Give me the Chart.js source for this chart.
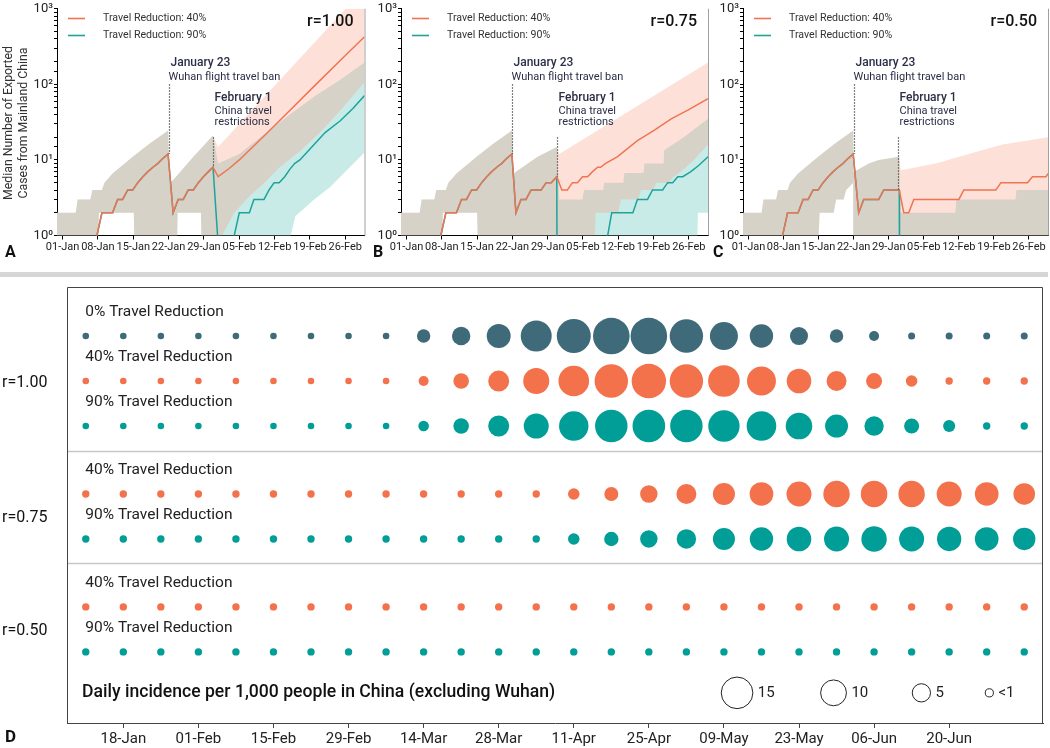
<!DOCTYPE html>
<html lang="en">
<head>
<meta charset="UTF-8">
<title>Exported cases and daily incidence</title>
<script src="https://cdn.jsdelivr.net/npm/chart.js@4"></script>
<style>
  body { margin: 0; background: #fff; width: 1050px; height: 748px; position: relative; overflow: hidden; }
  canvas { position: absolute; }
  #sep { position: absolute; left: 0; top: 272px; width: 1048px; height: 5px; background: #d6d6d6; }
</style>
</head>
<body>
<canvas id="chartA" width="370" height="270" style="left:0;top:0"></canvas>
<canvas id="chartB" width="340" height="270" style="left:370px;top:0"></canvas>
<canvas id="chartC" width="340" height="270" style="left:710px;top:0"></canvas>
<div id="sep"></div>
<canvas id="chartD" width="1050" height="468" style="left:0;top:280px"></canvas>

<script>
// ---------- top panels: days counted from 01-Jan ----------
const xTickDays = [0, 7, 14, 21, 28, 35, 42, 49, 56];
const xTickLabels = ['01-Jan', '08-Jan', '15-Jan', '22-Jan', '29-Jan', '05-Feb', '12-Feb', '19-Feb', '26-Feb'];
const yTickLabels = { 1: '10⁰', 10: '10¹', 100: '10²', 1000: '10³' };

// median and upper band before the Jan 23 ban look the same in all panels (0.5 = below the axis)
const medPre = [[6.6,0.5],[6.8,1],[7.8,2],[9.9,2],[10.9,3],[11.9,3],[12.9,4],[13.9,4],[14.9,5],[15.9,6],[16.9,7],[17.9,8],[18.9,9],[19.9,10.5],[20.9,12]];
const hiPre = [[-1.1,2],[2.6,2],[3.0,3],[5.5,3],[5.9,4],[7.8,4],[8.3,5],[9.9,6.6],[13.9,11],[17.2,16.4],[20.9,24.6]];

// panel A, r = 1.00
const aMed40 = medPre.concat([[21.9,2],[22.9,3],[23.9,3],[24.9,4],[25.9,4],[26.9,5],[27.9,6],[28.9,7],[29.8,8],[30.8,6],[33,7.7],[35,10],[40,21],[45,45],[50,97],[55,207],[59.8,427]]);
const aMed90 = medPre.concat([[21.9,2],[22.9,3],[23.9,3],[24.9,4],[25.9,4],[26.9,5],[27.9,6],[28.9,7],[29.8,8],[31.0,0.5],[33.7,0.5],[34,1],[35,2],[37,2],[37.9,3],[39.9,3],[40.9,4],[41.9,5],[42.9,5],[44,6],[45,7.5],[46,9],[47,10],[49,14],[52,23],[55,33],[57.5,48],[59.8,71]]);
const aLoPre = [[-1.1,0.5],[7.0,0.5],[7.2,2],[14.1,2],[14.3,0.5],[22.6,0.5],[22.8,2],[27.4,2],[27.6,0.5]];
const aHi40 = hiPre.concat([[21.2,5],[22,5.5],[25.9,11],[29.8,21],[30.8,14.8],[59.8,1870]]);
const aLo40 = aLoPre.concat([[31.2,0.5],[31.6,1],[34,2],[37,3.3],[40,5],[43,8],[47,13],[51,23],[55,45],[59.8,107]]);
const aHi90 = hiPre.concat([[21.2,5],[22,5.5],[25.9,11],[29.8,21],[30.8,9],[35,12],[40,22],[45,40],[50,70],[55,115],[59.8,195]]);
const aLo90 = aLoPre.concat([[45,0.5],[45.2,1],[46.1,1.8],[49.6,2.9],[53,4.4],[56.3,7.3],[59.8,12.5]]);

// panel B, r = 0.75
const bMed40 = medPre.concat([[21.7,2],[22.7,3],[23.7,3],[24.7,4],[26.7,4],[27.7,5],[28.7,5],[29.8,6],[30.8,4],[31.9,4],[32.9,5],[33.9,5],[34.9,6],[35.9,6],[36.9,7],[37.9,8],[38.5,8],[39.5,9],[41.8,11],[45.8,18],[49.1,24.6],[52.5,35],[55.8,45.6],[59.8,64.5]]);
const bMed90 = medPre.concat([[21.7,2],[22.7,3],[23.7,3],[24.7,4],[26.7,4],[27.7,5],[28.7,5],[29.8,6],[29.85,0.5],[39.7,0.5],[39.9,1],[40.7,2],[44.9,2],[45.8,3],[47.8,3],[48.8,4],[50.8,4],[51.8,5],[52.8,5],[53.8,6],[54.8,6],[56.4,7],[58,8.5],[59.8,11]]);
const bLoPre = [[-1.1,0.5],[7.0,0.5],[7.2,2],[14.0,2],[14.2,0.5],[21,0.5]];
const bHi40 = hiPre.concat([[21.2,6.6],[23,8],[26,11],[29.8,14.8],[30.3,12],[59.8,195]]);
const bLo40 = bLoPre.concat([[37.2,0.5],[37.5,2],[42,2],[42.5,3],[46,3],[46.5,4],[49,4],[49.5,5],[52,5],[53,6],[55,7.5],[57,10],[59.8,16]]);
const bHi90 = hiPre.concat([[21.2,6.6],[23,8],[26,11],[29.8,14.8],[30.3,3],[34.9,3],[35.2,4],[39,4],[39.2,5],[43,5],[43.2,6.7],[47,6.7],[47.2,9],[51,9],[51.1,13.4],[55,20],[59.8,35]]);
const bLo90 = bLoPre.concat([[57.6,0.5],[57.8,2],[59.8,2]]);

// panel C, r = 0.50
const cMed40 = medPre.concat([[22,2],[23,3],[26,3],[27,4],[30.1,4],[31,2],[32,2],[33,3],[42,3],[43,4],[49.4,4],[50.4,5],[55.7,5],[56.7,6],[59.4,6],[59.8,6.6]]);
const cMed90 = medPre.concat([[22,2],[23,3],[26,3],[27,4],[30.1,4],[30.15,0.5],[59.8,0.5]]);
const cLoPre = [[-1.1,0.5],[13.8,0.5],[14.2,2],[17,2],[17.5,3],[19,3],[19.5,4],[20.9,5],[21.0,0.5]];
const cHi40 = hiPre.concat([[21,7],[22,7.5],[24,9],[26,10],[30.1,11],[30.4,7.3],[37.4,9],[44,12],[50.7,16],[59.8,20]]);
const cLo40 = cLoPre.concat([[59.8,0.5]]);
const cHi90 = hiPre.concat([[21,7],[22,7.5],[24,9],[26,10],[30.1,11],[30.3,2],[41.3,2],[41.5,3],[53.3,3],[53.5,4],[59.8,4]]);
const cLo90 = cLoPre.concat([[59.8,0.5]]);

// event markers
const banDay = 21, banTop = 100, banBottom = 12;
const restrDay = 29.8, restrTop = 20;
const restrBottoms = { A: 8, B: 6, C: 4 };

// ---------- bottom panel: one column per week from 11-Jan ----------
const dTickCols = [1, 3, 5, 7, 9, 11, 13, 15, 17, 19, 21, 23];
const dTickLabels = ['18-Jan', '01-Feb', '15-Feb', '29-Feb', '14-Mar', '28-Mar', '11-Apr', '25-Apr', '09-May', '23-May', '06-Jun', '20-Jun'];
// daily incidence per 1,000 people
const r100_0  = [0.65,0.65,0.65,0.65,0.65,0.65,0.65,0.65,0.65,2.7,5.1,8.6,14.4,17.4,20.1,20.1,16.8,11.8,8.2,4.9,2.7,1.5,0.74,0.74,0.74,0.74];
const r100_40 = [0.65,0.65,0.65,0.65,0.65,0.65,0.65,0.65,0.65,1.5,3.65,6.6,10.2,14.1,16.8,17.8,16.8,15.0,12.6,9.1,6.0,3.85,2.0,0.82,0.82,0.82];
const r100_90 = [0.65,0.65,0.65,0.65,0.65,0.65,0.65,0.65,0.65,1.7,3.65,6.6,9.4,13.0,15.8,16.0,15.8,14.8,13.2,10.6,7.9,5.65,3.4,2.2,0.82,0.82];
const r075_40 = [0.82,0.82,0.82,0.82,0.82,0.82,0.82,0.82,0.82,0.82,0.82,0.82,0.82,2.0,2.95,4.55,6.0,7.3,8.4,9.4,10.5,10.6,10.5,9.4,8.4,7.0];
const r075_90 = [0.82,0.82,0.82,0.82,0.82,0.82,0.82,0.82,0.82,0.82,0.82,0.82,0.82,2.0,3.1,4.55,5.65,7.3,8.2,9.1,9.4,9.7,9.4,8.9,8.4,7.5];
const r050_40 = [0.82,0.82,0.82,0.82,0.82,0.82,0.82,0.82,0.82,0.82,0.82,0.82,0.82,0.82,0.82,0.82,0.82,0.82,0.82,0.82,0.82,0.82,0.82,0.82,0.82,0.82];
const r050_90 = [0.82,0.82,0.82,0.82,0.82,0.82,0.82,0.82,0.82,0.82,0.82,0.82,0.82,0.82,0.82,0.82,0.82,0.82,0.82,0.82,0.82,0.82,0.82,0.82,0.82,0.82];
const rowLabels = ['0% Travel Reduction', '40% Travel Reduction', '90% Travel Reduction', '40% Travel Reduction', '90% Travel Reduction', '40% Travel Reduction', '90% Travel Reduction'];
const groupLabels = ['r=1.00', 'r=0.75', 'r=0.50'];
const sizeLegendVals = [15, 10, 5, 1];
const sizeLegendText = ['15', '10', '5', '<1'];

// ---------- styling ----------
const FONT = 'Roboto';
const ORANGE = '#f07452', TEAL = '#1ea39b', SLATE = '#3e6a7a';
const DOT_ORANGE = '#f3714b', DOT_TEAL = '#009e97';
const BAND90 = 'rgb(201,235,232)', BAND40 = 'rgba(248,152,125,0.3)';
const K = 4.08; // bubble radius per sqrt(incidence)

Chart.defaults.font.family = FONT;
Chart.defaults.animation = false;
Chart.defaults.events = [];
Chart.defaults.plugins.legend.display = false;
Chart.defaults.plugins.tooltip.enabled = false;

function toPts(arr) { return arr.map(p => ({ x: p[0], y: p[1] })); }

function makePanel(id, p) {
  const ds = (arr, extra) => Object.assign({
    data: toPts(arr), pointRadius: 0, borderWidth: 0, borderColor: 'rgba(0,0,0,0)', tension: 0, fill: false
  }, extra || {});

  const overlay = {
    id: 'overlay' + id,
    afterDatasetsDraw(chart) {
      const { ctx, chartArea: ca, scales: { x, y } } = chart;
      ctx.save();
      // right frame line
      ctx.strokeStyle = '#a0a0a0'; ctx.lineWidth = 1;
      ctx.beginPath(); ctx.moveTo(ca.right + 0.5, ca.top); ctx.lineTo(ca.right + 0.5, ca.bottom); ctx.stroke();
      // dotted event lines
      ctx.setLineDash([1.5, 1.5]); ctx.strokeStyle = '#555'; ctx.lineWidth = 1.2;
      const xb = Math.round(x.getPixelForValue(banDay)) + 0.5;
      const xr = Math.round(x.getPixelForValue(restrDay)) + 0.5;
      ctx.beginPath();
      ctx.moveTo(xb, y.getPixelForValue(banTop)); ctx.lineTo(xb, y.getPixelForValue(banBottom));
      ctx.moveTo(xr, y.getPixelForValue(restrTop)); ctx.lineTo(xr, y.getPixelForValue(p.restrBottom));
      ctx.stroke();
      ctx.setLineDash([]);
      // event texts
      ctx.fillStyle = '#2b2e46'; ctx.textBaseline = 'middle'; ctx.textAlign = 'left';
      ctx.font = '500 12px ' + FONT;
      ctx.fillText('January 23', xb + 1, 63);
      ctx.fillText('February 1', xr + 1, 97.5);
      ctx.font = '11px ' + FONT;
      ctx.fillText('Wuhan flight travel ban', xb - 1, 77.5);
      ctx.fillText('China travel', xr + 1, 111);
      ctx.fillText('restrictions', xr + 1, 122.5);
      // legend
      const lx = ca.left + 11;
      [[ORANGE, 'Travel Reduction: 40%', 18.5], [TEAL, 'Travel Reduction: 90%', 35.5]].forEach(it => {
        ctx.strokeStyle = it[0]; ctx.lineWidth = 1.6;
        ctx.beginPath(); ctx.moveTo(lx, it[2]); ctx.lineTo(lx + 17, it[2]); ctx.stroke();
        ctx.fillStyle = '#333'; ctx.font = '10.6px ' + FONT;
        ctx.fillText(it[1], ca.left + 46, it[2]);
      });
      // r label
      ctx.fillStyle = '#111'; ctx.font = '500 16px ' + FONT; ctx.textAlign = 'right';
      ctx.fillText(p.rText, ca.right - 11, 22);
      // panel letter
      ctx.textAlign = 'left'; ctx.font = 'bold 16px ' + FONT; ctx.fillStyle = '#111';
      ctx.fillText(p.letter, p.letterX, 252.5);
      // y title
      if (p.yTitle) {
        ctx.save();
        ctx.translate(9, 123); ctx.rotate(-Math.PI / 2);
        ctx.textAlign = 'center'; ctx.font = '12.3px ' + FONT; ctx.fillStyle = '#333';
        ctx.fillText('Median Number of Exported', 0, 0);
        ctx.fillText('Cases from Mainland China', 0, 15);
        ctx.restore();
      }
      ctx.restore();
    }
  };

  new Chart(document.getElementById(id), {
    type: 'line',
    data: {
      datasets: [
        ds(p.med40, { label: 'Travel Reduction: 40%', borderColor: ORANGE, borderWidth: 1.5 }),
        ds(p.med90, { label: 'Travel Reduction: 90%', borderColor: TEAL, borderWidth: 1.5 }),
        ds(p.hi40, { backgroundColor: BAND40, fill: '+1' }),
        ds(p.lo40),
        ds(p.hi90, { backgroundColor: BAND90, fill: '+1' }),
        ds(p.lo90)
      ]
    },
    options: {
      responsive: false,
      layout: { autoPadding: false, padding: { top: 8, right: p.padR, left: 0, bottom: 0 } },
      scales: {
        x: {
          type: 'linear', min: -1.1, max: 59.8,
          afterBuildTicks: s => { s.ticks = xTickDays.map(v => ({ value: v })); },
          afterFit: s => { s.height = 34.5; },
          ticks: { callback: (v, i) => xTickLabels[i], autoSkip: false, maxRotation: 0, padding: 1, color: '#222', font: { size: 11 } },
          grid: { drawOnChartArea: false, tickLength: 4, color: '#000' },
          border: { color: '#000', width: 1 }
        },
        y: {
          type: 'logarithmic', min: 1, max: 1000,
          afterFit: s => { s.width = p.axisW; },
          ticks: { callback: v => yTickLabels[v] || '', autoSkip: false, padding: 1, color: '#222', font: { size: 13 } },
          grid: { drawOnChartArea: false, tickLength: 3, color: '#000' },
          border: { color: '#000', width: 1 }
        }
      }
    },
    plugins: [overlay]
  });
}

makePanel('chartA', { med40: aMed40, med90: aMed90, hi40: aHi40, lo40: aLo40, hi90: aHi90, lo90: aLo90,
  restrBottom: restrBottoms.A, rText: 'r=1.00', letter: 'A', letterX: 5, axisW: 57, padR: 5.5, yTitle: true });
makePanel('chartB', { med40: bMed40, med90: bMed90, hi40: bHi40, lo40: bLo40, hi90: bHi90, lo90: bLo90,
  restrBottom: restrBottoms.B, rText: 'r=0.75', letter: 'B', letterX: 3, axisW: 31, padR: 2, yTitle: false });
makePanel('chartC', { med40: cMed40, med90: cMed90, hi40: cHi40, lo40: cLo40, hi90: cHi90, lo90: cLo90,
  restrBottom: restrBottoms.C, rText: 'r=0.50', letter: 'C', letterX: 3, axisW: 33, padR: 2, yTitle: false });

// ---------- bubble panel D ----------
const rowY = [1.09, 2.09, 3.09, 4.6, 5.6, 7.11, 8.11];  // row positions (units of 45 px)
const sepY = [3.64, 6.13];
const legendY = 9.02;
const legendCols = [17.35, 19.92, 22.26, 24.07];
const rowSeries = [r100_0, r100_40, r100_90, r075_40, r075_90, r050_40, r050_90];
const rowColors = [SLATE, DOT_ORANGE, DOT_TEAL, DOT_ORANGE, DOT_TEAL, DOT_ORANGE, DOT_TEAL];

const bubbleSets = rowSeries.map((vals, k) => ({
  label: rowLabels[k],
  data: vals.map((v, i) => ({ x: i, y: rowY[k], r: K * Math.sqrt(v) })),
  backgroundColor: rowColors[k], borderWidth: 0
}));
bubbleSets.push({
  label: 'size legend',
  data: sizeLegendVals.map((v, i) => ({ x: legendCols[i], y: legendY, r: K * Math.sqrt(v) })),
  backgroundColor: 'rgba(0,0,0,0)', borderColor: '#222', borderWidth: 1
});

const dOverlay = {
  id: 'dOverlay',
  afterDraw(chart) {
    const { ctx, chartArea: ca, scales: { x, y } } = chart;
    ctx.save();
    ctx.strokeStyle = '#c8c8c8'; ctx.lineWidth = 1.5;
    sepY.forEach(v => {
      const py = Math.round(y.getPixelForValue(v)) + 0.5;
      ctx.beginPath(); ctx.moveTo(ca.left, py); ctx.lineTo(ca.right, py); ctx.stroke();
    });
    ctx.strokeStyle = '#444'; ctx.lineWidth = 1;
    ctx.beginPath();
    ctx.moveTo(ca.left + 0.5, ca.bottom); ctx.lineTo(ca.left + 0.5, ca.top + 0.5);
    ctx.lineTo(ca.right - 0.5, ca.top + 0.5); ctx.lineTo(ca.right - 0.5, ca.bottom);
    ctx.stroke();
    ctx.textBaseline = 'middle'; ctx.textAlign = 'left';
    ctx.fillStyle = '#222'; ctx.font = '15.5px ' + FONT;
    rowLabels.forEach((t, k) => ctx.fillText(t, x.getPixelForValue(0) - 0.5, y.getPixelForValue(rowY[k] - 0.53)));
    ctx.fillStyle = '#111'; ctx.font = '16px ' + FONT;
    const groups = [[0, 2], [3, 4], [5, 6]];
    groups.forEach((g, k) => {
      const py = (y.getPixelForValue(rowY[g[0]]) + y.getPixelForValue(rowY[g[1]])) / 2 + 2;
      ctx.fillText(groupLabels[k], 2, py);
    });
    ctx.font = '500 17.6px ' + FONT;
    ctx.fillText('Daily incidence per 1,000 people in China (excluding Wuhan)', 82, y.getPixelForValue(legendY));
    ctx.font = '15px ' + FONT; ctx.fillStyle = '#222';
    sizeLegendVals.forEach((v, i) => {
      ctx.fillText(sizeLegendText[i], x.getPixelForValue(legendCols[i]) + K * Math.sqrt(v) + 5, y.getPixelForValue(legendY));
    });
    ctx.font = 'bold 17px ' + FONT; ctx.fillStyle = '#111';
    ctx.fillText('D', 5, chart.height - 10);
    ctx.restore();
  }
};

new Chart(document.getElementById('chartD'), {
  type: 'bubble',
  data: { datasets: bubbleSets },
  options: {
    responsive: false,
    layout: { autoPadding: false, padding: { top: 7, right: 7, left: 67, bottom: 0 } },
    scales: {
      x: {
        type: 'linear', min: -0.5, max: 25.5,
        afterBuildTicks: s => { s.ticks = dTickCols.map(v => ({ value: v })); },
        afterFit: s => { s.height = 25; },
        ticks: { callback: (v, i) => dTickLabels[i], autoSkip: false, maxRotation: 0, padding: 2, color: '#222', font: { size: 15 } },
        grid: { drawOnChartArea: false, tickLength: 5, color: '#444' },
        border: { color: '#444', width: 1 }
      },
      y: { type: 'linear', min: 0, max: 9.69, reverse: true, display: false }
    }
  },
  plugins: [dOverlay]
});
</script>
</body>
</html>
